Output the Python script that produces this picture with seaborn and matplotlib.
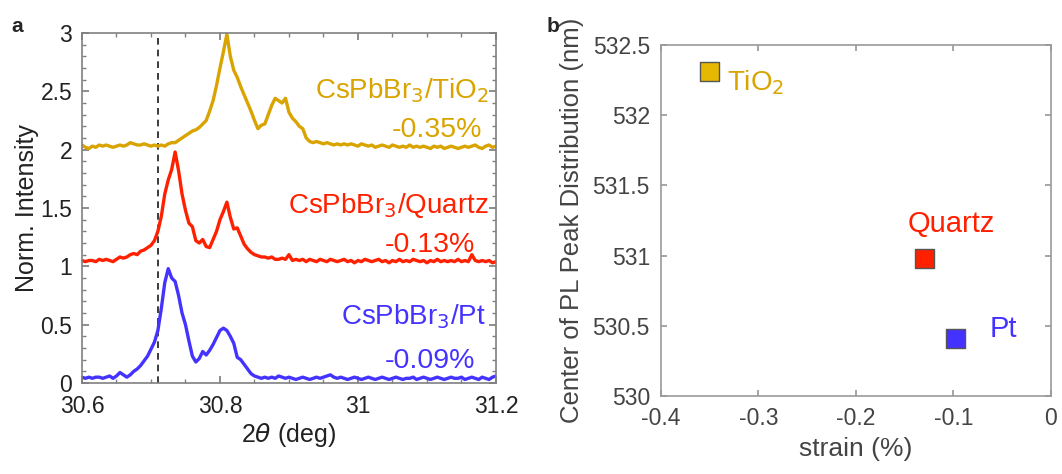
import numpy as np
import pandas as pd
import seaborn as sns
import matplotlib.pyplot as plt

# 2theta scan grid (deg), 0.005 step
two_theta = np.round(np.arange(30.600, 31.2001, 0.005), 3)

# normalized XRD intensity, already offset (TiO2 +2, Quartz +1, Pt +0)
tio2 = [2.04, 2.02, 2.01, 2.03, 2.02, 2.04, 2.03, 2.04, 2.03, 2.02,
        2.03, 2.04, 2.03, 2.04, 2.06, 2.05, 2.04, 2.04, 2.05, 2.04,
        2.03, 2.04, 2.03, 2.04, 2.03, 2.05, 2.06, 2.06, 2.08, 2.10,
        2.12, 2.14, 2.16, 2.17, 2.19, 2.22, 2.25, 2.33, 2.42, 2.55,
        2.70, 2.84, 2.99, 2.80, 2.68, 2.62, 2.54, 2.47, 2.40, 2.33,
        2.25, 2.18, 2.21, 2.22, 2.30, 2.38, 2.44, 2.42, 2.40, 2.44,
        2.32, 2.27, 2.24, 2.20, 2.18, 2.10, 2.07, 2.06, 2.07, 2.06,
        2.05, 2.06, 2.05, 2.04, 2.05, 2.04, 2.05, 2.04, 2.05, 2.04,
        2.03, 2.05, 2.04, 2.03, 2.04, 2.02, 2.03, 2.04, 2.03, 2.02,
        2.04, 2.03, 2.02, 2.03, 2.02, 2.04, 2.02, 2.03, 2.02, 2.03,
        2.02, 2.01, 2.03, 2.02, 2.03, 2.01, 2.02, 2.03, 2.02, 2.01,
        2.02, 2.03, 2.02, 2.03, 2.04, 2.02, 2.01, 2.03, 2.04, 2.02,
        2.03]
quartz = [1.05, 1.04, 1.05, 1.05, 1.04, 1.06, 1.05, 1.06, 1.05, 1.04,
          1.06, 1.08, 1.07, 1.08, 1.10, 1.11, 1.10, 1.13, 1.14, 1.16,
          1.18, 1.22, 1.30, 1.43, 1.62, 1.74, 1.83, 1.98, 1.82, 1.62,
          1.48, 1.37, 1.34, 1.22, 1.20, 1.23, 1.17, 1.16, 1.23, 1.30,
          1.40, 1.47, 1.55, 1.42, 1.32, 1.33, 1.26, 1.19, 1.15, 1.12,
          1.10, 1.09, 1.08, 1.08, 1.07, 1.08, 1.06, 1.06, 1.07, 1.06,
          1.10, 1.05, 1.06, 1.05, 1.06, 1.04, 1.06, 1.05, 1.04, 1.06,
          1.05, 1.04, 1.06, 1.05, 1.04, 1.05, 1.06, 1.04, 1.05, 1.03,
          1.05, 1.04, 1.06, 1.05, 1.04, 1.05, 1.06, 1.04, 1.05, 1.03,
          1.05, 1.04, 1.06, 1.04, 1.05, 1.04, 1.06, 1.05, 1.04, 1.05,
          1.03, 1.05, 1.04, 1.06, 1.04, 1.05, 1.04, 1.05, 1.04, 1.06,
          1.04, 1.05, 1.04, 1.10, 1.05, 1.04, 1.05, 1.04, 1.05, 1.03,
          1.04]
pt = [0.05, 0.04, 0.05, 0.04, 0.05, 0.05, 0.04, 0.05, 0.06, 0.04,
      0.06, 0.09, 0.07, 0.05, 0.07, 0.10, 0.12, 0.15, 0.19, 0.23,
      0.29, 0.35, 0.45, 0.64, 0.86, 0.98, 0.90, 0.87, 0.75, 0.60,
      0.50, 0.36, 0.23, 0.18, 0.21, 0.27, 0.24, 0.28, 0.33, 0.39,
      0.45, 0.47, 0.45, 0.40, 0.34, 0.22, 0.20, 0.16, 0.12, 0.08,
      0.06, 0.05, 0.04, 0.05, 0.04, 0.05, 0.04, 0.06, 0.05, 0.04,
      0.05, 0.04, 0.03, 0.04, 0.05, 0.04, 0.03, 0.04, 0.05, 0.04,
      0.05, 0.06, 0.07, 0.05, 0.04, 0.05, 0.04, 0.03, 0.04, 0.05,
      0.04, 0.03, 0.04, 0.05, 0.04, 0.03, 0.04, 0.05, 0.04, 0.03,
      0.04, 0.05, 0.04, 0.03, 0.04, 0.04, 0.05, 0.03, 0.04, 0.05,
      0.04, 0.03, 0.04, 0.05, 0.04, 0.03, 0.04, 0.05, 0.04, 0.04,
      0.05, 0.03, 0.04, 0.05, 0.04, 0.03, 0.05, 0.04, 0.03, 0.05,
      0.06]

ref_2theta = 30.71   # dashed reference line

# panel b
substrates = ['TiO$_2$', 'Quartz', 'Pt']
strain = [-0.35, -0.13, -0.098]
pl_center = [532.31, 530.98, 530.41]
strain_txt = ['-0.35%', '-0.13%', '-0.09%']

colors = ['#D9A400', '#FF2000', '#4433FF']
fills = ['#E6B800', '#FF2000', '#4433FF']

sns.set_theme(style='ticks')
plt.rcParams['font.family'] = ['Liberation Sans', 'DejaVu Sans']
plt.rcParams['mathtext.fontset'] = 'dejavusans'

fig = plt.figure(figsize=(10.62, 4.74), dpi=100)
ax1 = fig.add_axes([0.0772, 0.192, 0.3898, 0.7384])
ax2 = fig.add_axes([0.6224, 0.1646, 0.3672, 0.7405])

# ---- panel a ----
df = pd.DataFrame({'x': two_theta, 'TiO2': tio2, 'Quartz': quartz, 'Pt': pt})
for col, c in zip(['TiO2', 'Quartz', 'Pt'], colors):
    sns.lineplot(data=df, x='x', y=col, ax=ax1, color=c, lw=2.4)
ax1.axvline(ref_2theta, color='k', ls=(0, (4, 3)), lw=1.2, zorder=0)

ax1.set_xlim(30.6, 31.2)
ax1.set_ylim(0, 3)
ax1.set_xticks([30.6, 30.8, 31.0, 31.2])
ax1.set_xticklabels(['30.6', '30.8', '31', '31.2'])
ax1.set_yticks([0, 0.5, 1, 1.5, 2, 2.5, 3])
ax1.set_yticklabels(['0', '0.5', '1', '1.5', '2', '2.5', '3'])
ax1.set_xticks(np.arange(30.6, 31.2001, 0.05), minor=True)
ax1.set_yticks(np.arange(0, 3.001, 0.1), minor=True)
ax1.tick_params(which='both', direction='in', top=True, right=True,
                color='#808080', labelsize=16.5, labelcolor='#222222')
ax1.tick_params(axis='y', which='major', length=5, pad=7)
ax1.tick_params(axis='x', which='major', length=5, pad=9)
ax1.tick_params(which='minor', length=3)
ax1.set_xlabel(r'2$\theta$ (deg)', fontsize=18, color='#222222', labelpad=2)
ax1.set_ylabel('Norm. Intensity', fontsize=18, color='#222222', labelpad=1)
for s in ax1.spines.values():
    s.set_color('#808080')
    s.set_linewidth(1.2)

lab_pos = [(31.19, 2.44, 31.18, 2.11), (31.19, 1.46, 31.17, 1.12), (31.185, 0.50, 31.17, 0.13)]
for name, txt, c, (x1, y1, x2, y2) in zip(
        ['CsPbBr$_3$/TiO$_2$', 'CsPbBr$_3$/Quartz', 'CsPbBr$_3$/Pt'],
        strain_txt, colors, lab_pos):
    ax1.text(x1, y1, name, color=c, fontsize=20, ha='right', va='baseline')
    ax1.text(x2, y2, txt, color=c, fontsize=20.5, ha='right', va='baseline')

# ---- panel b ----
dfb = pd.DataFrame({'strain': strain, 'pl': pl_center, 'sub': substrates})
sns.scatterplot(data=dfb, x='strain', y='pl', hue='sub', palette=fills,
                marker='s', s=190, edgecolor='#555555', linewidth=1.0,
                ax=ax2, legend=False, zorder=3)
ax2.set_xlim(-0.4, 0)
ax2.set_ylim(530, 532.5)
ax2.set_xticks([-0.4, -0.3, -0.2, -0.1, 0])
ax2.set_xticklabels(['-0.4', '-0.3', '-0.2', '-0.1', '0'])
ax2.set_yticks([530, 530.5, 531, 531.5, 532, 532.5])
ax2.set_yticklabels(['530', '530.5', '531', '531.5', '532', '532.5'])
ax2.tick_params(direction='in', top=True, right=True, length=4,
                color='#999999', labelsize=16.5, labelcolor='#444444', pad=8)
ax2.set_xlabel('strain (%)', fontsize=19, color='#444444', labelpad=5)
ax2.set_ylabel('Center of PL Peak Distribution (nm)', fontsize=18.5,
               color='#444444', labelpad=6)
for s in ax2.spines.values():
    s.set_color('#999999')
    s.set_linewidth(1.2)

ax2.text(-0.332, 532.18, 'TiO$_2$', color=colors[0], fontsize=20, ha='left', va='baseline')
ax2.text(-0.1026, 531.17, 'Quartz', color=colors[1], fontsize=21, ha='center', va='baseline')
ax2.text(-0.0626, 530.42, 'Pt', color=colors[2], fontsize=21, ha='left', va='baseline')

fig.text(0.011, 0.965, 'a', fontsize=15, fontweight='bold', va='top')
fig.text(0.515, 0.965, 'b', fontsize=15, fontweight='bold', va='top')

fig.savefig('out.png', dpi=100)
